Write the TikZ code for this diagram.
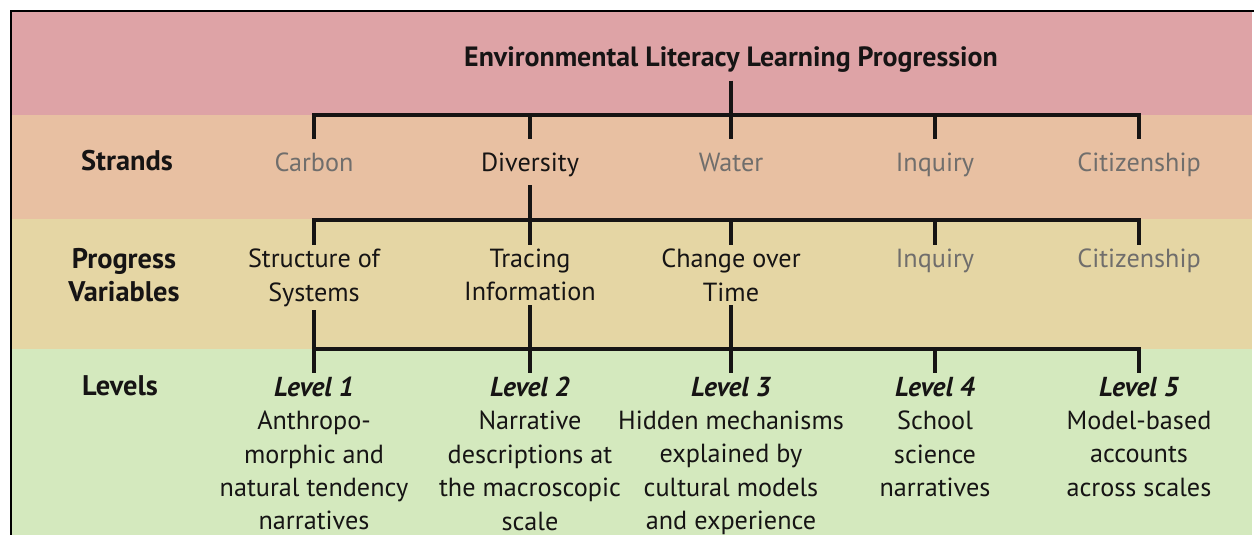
\documentclass[tikz,border=0pt]{standalone}
\usepackage{fontspec}
\setmainfont{PT Sans}
\definecolor{bandpink}{RGB}{222,163,166}
\definecolor{bandpeach}{RGB}{232,192,162}
\definecolor{bandtan}{RGB}{229,214,164}
\definecolor{bandgreen}{RGB}{212,233,190}
\definecolor{ink}{RGB}{22,20,20}
\definecolor{dim}{RGB}{112,110,108}
\newcommand{\lvlhead}[1]{{\fontsize{27.5}{33.5}\selectfont\bfseries\itshape #1}}
\tikzset{
  txt/.style={inner sep=0pt, align=center, text=ink, font=\fontsize{26.3}{33.5}\selectfont},
  dimtxt/.style={txt, text=dim},
  rowlabel/.style={txt, font=\fontsize{28.5}{33}\selectfont\bfseries},
  link/.style={draw=ink, line width=3.2pt},
  rowA/.style={outer ysep=14pt, anchor=north},
  rowB/.style={outer ysep=4pt, anchor=north},
  rowC/.style={outer ysep=4pt, anchor=north},
}
\begin{document}
\begin{tikzpicture}[x=1bp, y=-1bp]
\useasboundingbox (0,0) rectangle (1254,535);
% bands
\fill[bandpink]  (11,11)  rectangle (1252,115);
\fill[bandpeach] (11,115) rectangle (1252,219);
\fill[bandtan]   (11,219) rectangle (1252,349);
\fill[bandgreen] (11,349) rectangle (1252,535);
\draw[black, line width=3pt] (11,535) -- (11,11) -- (1254,11);

% title
\node[txt, font=\fontsize{28}{33}\selectfont\bfseries, anchor=north, outer ysep=8pt] (t) at (731,39) {Environmental Literacy Learning Progression};

% row labels
\node[rowlabel, anchor=base] (lstr) at (127,171) {Strands};
\node[rowlabel, anchor=north] (lpv) at (124,248) {Progress\\Variables};
\node[rowlabel, anchor=base] (llev) at (120,395) {Levels};

% strands
\node[dimtxt, rowA] (s1) at (314,139) {Carbon};
\node[txt,    rowA, text depth=0pt] (s2) at (530,139) {Diversity};
\node[dimtxt, rowA] (s3) at (731,139) {Water};
\node[dimtxt, rowA] (s4) at (935,139) {Inquiry};
\node[dimtxt, rowA] (s5) at (1139,139) {Citizenship};

% progress variables
\node[txt,    rowB] (p1) at (314,245) {Structure of\\Systems};
\node[txt,    rowB] (p2) at (530,245) {Tracing\\Information};
\node[txt,    rowB] (p3) at (731,245) {Change over\\Time};
\node[dimtxt, rowB] (p4) at (935,245) {Inquiry};
\node[dimtxt, rowB] (p5) at (1139,245) {Citizenship};

% levels
\node[txt, rowC] (v1) at (314,373) {\lvlhead{Level 1}\\Anthropo-\\morphic and\\natural tendency\\narratives};
\node[txt, rowC] (v2) at (530,373) {\lvlhead{Level 2}\\Narrative\\descriptions at\\the macroscopic\\scale};
\node[txt, rowC] (v3) at (731,373) {\lvlhead{Level 3}\\Hidden mechanisms\\explained by\\cultural models\\and experience};
\node[txt, rowC] (v4) at (935,373) {\lvlhead{Level 4}\\School\\science\\narratives};
\node[txt, rowC] (v5) at (1139,373) {\lvlhead{Level 5}\\Model-based\\accounts\\across scales};

% bus coordinates
\coordinate (b1) at (0,115);
\coordinate (b2) at (0,220);
\coordinate (b3) at (0,349);

% title to strands
\draw[link] (t.south) -- (t.south |- b1);
\draw[link] (s1.north) -- (s1.north |- b1) -- (s5.north |- b1) -- (s5.north);
\foreach \n in {s2,s3,s4} \draw[link] (\n.north) -- (\n.north |- b1);

% diversity to progress variables
\draw[link] (s2.south) -- (s2.south |- b2);
\draw[link] (p1.north) -- (p1.north |- b2) -- (p5.north |- b2) -- (p5.north);
\foreach \n in {p2,p3,p4} \draw[link] (\n.north) -- (\n.north |- b2);

% progress variables to levels
\foreach \n in {p1,p2,p3} \draw[link] (\n.south) -- (\n.south |- b3);
\draw[link] (v1.north) -- (v1.north |- b3) -- (v5.north |- b3) -- (v5.north);
\foreach \n in {v2,v3,v4} \draw[link] (\n.north) -- (\n.north |- b3);
\end{tikzpicture}
\end{document}
